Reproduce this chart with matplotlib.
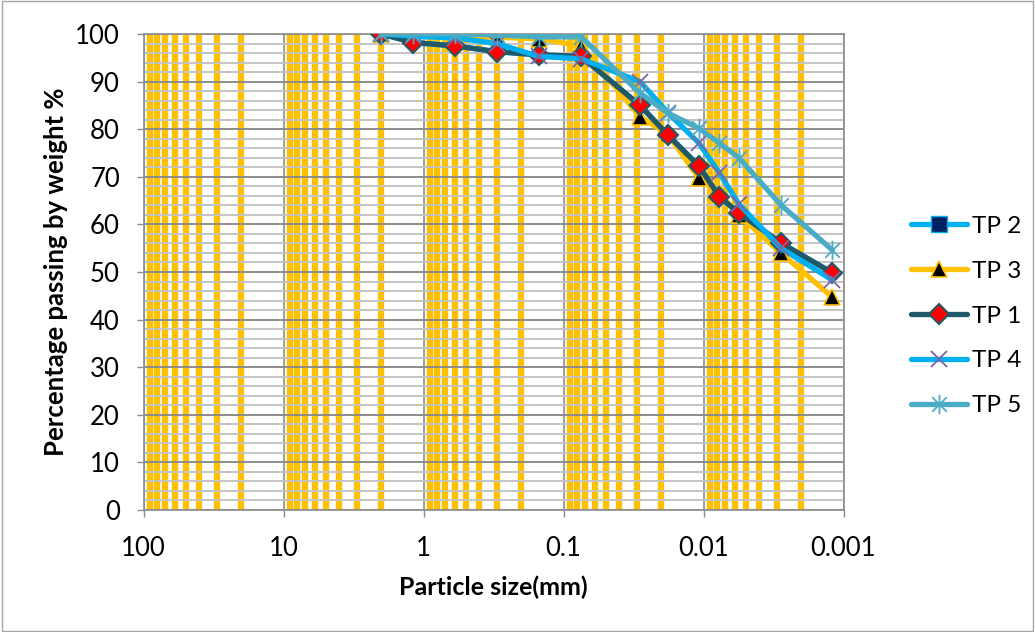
import matplotlib
matplotlib.use("Agg")
import matplotlib.pyplot as plt
from matplotlib.ticker import LogLocator, FixedLocator, MultipleLocator, FixedFormatter, NullFormatter
from matplotlib.lines import Line2D
from matplotlib.path import Path
from matplotlib.patches import Rectangle

plt.rcParams['font.family'] = ['Lato', 'DejaVu Sans']

# ---- data ----
sizes = [2, 1.18, 0.6, 0.3, 0.15, 0.075, 0.0284, 0.018, 0.0108, 0.0077, 0.0056, 0.0028, 0.0012]
tp2 = [100, 98.2, 97.5, 96.3, 95.6, 95.3, 85.0, 78.8, 72.3, 65.8, 62.4, 56.1, 49.8]
tp3 = [100, 99.5, 99.5, 99.3, 99.0, 97.5, 82.6, 79.0, 69.7, 66.5, 62.0, 54.0, 44.7]
tp1 = [100, 98.2, 97.5, 96.3, 95.6, 95.3, 85.0, 78.8, 72.3, 65.8, 62.4, 56.1, 49.8]
tp4 = [100, 99.5, 99.2, 98.0, 95.3, 94.8, 90.0, 83.5, 77.1, 70.8, 64.3, 55.0, 48.3]
tp5 = [100, 100, 100, 99.8, 99.4, 99.4, 87.6, 83.4, 80.2, 77.1, 74.0, 64.1, 54.6]
series_names = ["TP 2", "TP 3", "TP 1", "TP 4", "TP 5"]
x_ticks = [100, 10, 1, 0.1, 0.01, 0.001]
x_tick_labels = ["100", "10", "1", "0.1", "0.01", "0.001"]
y_ticks = list(range(0, 101, 10))

# asterisk marker (vertical bar + x)
star = Path([(0, -1), (0, 1), (-0.75, -0.75), (0.75, 0.75), (-0.75, 0.75), (0.75, -0.75)],
            [Path.MOVETO, Path.LINETO, Path.MOVETO, Path.LINETO, Path.MOVETO, Path.LINETO])

styles = [
    dict(color='#00B0F0', marker='s', markersize=6, markerfacecolor='#002060', markeredgecolor='#00B0F0', markeredgewidth=1),
    dict(color='#FFC000', marker='^', markersize=11, markerfacecolor='black', markeredgecolor='#FFC000', markeredgewidth=1.2),
    dict(color='#215968', marker='D', markersize=10, markerfacecolor='#FF0000', markeredgecolor='#215968', markeredgewidth=1.5),
    dict(color='#00B0F0', marker='x', markersize=12, markeredgecolor='#8064A2', markeredgewidth=1.3),
    dict(color='#4BACC6', marker=star, markersize=14, markeredgecolor='#4BACC6', markerfacecolor='none', markeredgewidth=1.3),
]
data = [tp2, tp3, tp1, tp4, tp5]

fig = plt.figure(figsize=(10.35, 6.32), dpi=100)
ax = fig.add_axes([143.5/1035, 1-510/632, 700/1035, 476/632])

for vals, st in zip(data, styles):
    ax.plot(sizes, vals, linewidth=3.8, solid_capstyle='round', solid_joinstyle='round', zorder=3, **st)

ax.set_xscale('log')
ax.set_xlim(100, 0.001)
ax.set_ylim(0, 100)

ax.xaxis.set_major_locator(FixedLocator(x_ticks))
ax.xaxis.set_major_formatter(FixedFormatter(x_tick_labels))
ax.xaxis.set_minor_locator(LogLocator(base=10, subs=range(2, 10), numticks=20))
ax.xaxis.set_minor_formatter(NullFormatter())
ax.yaxis.set_major_locator(FixedLocator(y_ticks))
ax.yaxis.set_minor_locator(MultipleLocator(2))

ax.set_axisbelow(True)
ax.grid(which='minor', axis='x', color='#FFC000', linewidth=4.6)
ax.grid(which='major', axis='x', color='#8C8C8C', linewidth=1.2)
ax.grid(which='minor', axis='y', color='#C4C4C4', linewidth=1.4)
ax.grid(which='major', axis='y', color='#8C8C8C', linewidth=1.4)

for s in ax.spines.values():
    s.set_color('#8C8C8C')
    s.set_linewidth(1.2)

ax.tick_params(which='major', direction='out', length=5, width=1, color='#8C8C8C', labelsize=18.5)
ax.tick_params(axis='x', which='major', pad=14)
ax.tick_params(axis='y', which='major', pad=12)
ax.tick_params(which='minor', length=0)

ax.set_xlabel("Particle size(mm)", fontsize=18, fontweight='bold', labelpad=10)
ax.set_ylabel("Percentage passing by weight %", fontsize=18.5, fontweight='bold', labelpad=5)

handles = []
for st, name in zip(styles, series_names):
    st2 = dict(st)
    if st2.get('marker') == 's':
        st2['markersize'] = 11
    handles.append(Line2D([], [], linewidth=3.8, solid_capstyle='round', label=name, **st2))
fig.legend(handles=handles, loc='center left', bbox_to_anchor=(911/1035, 1-316/632),
           frameon=False, fontsize=17.5, handlelength=2.3, handletextpad=0.2,
           labelspacing=0.98, borderpad=0, borderaxespad=0)

fig.patches.append(Rectangle((0.002, 0.002), 0.996, 0.996, transform=fig.transFigure,
                             fill=False, edgecolor='#A6A6A6', linewidth=1))

fig.savefig("out.png", dpi=100)
